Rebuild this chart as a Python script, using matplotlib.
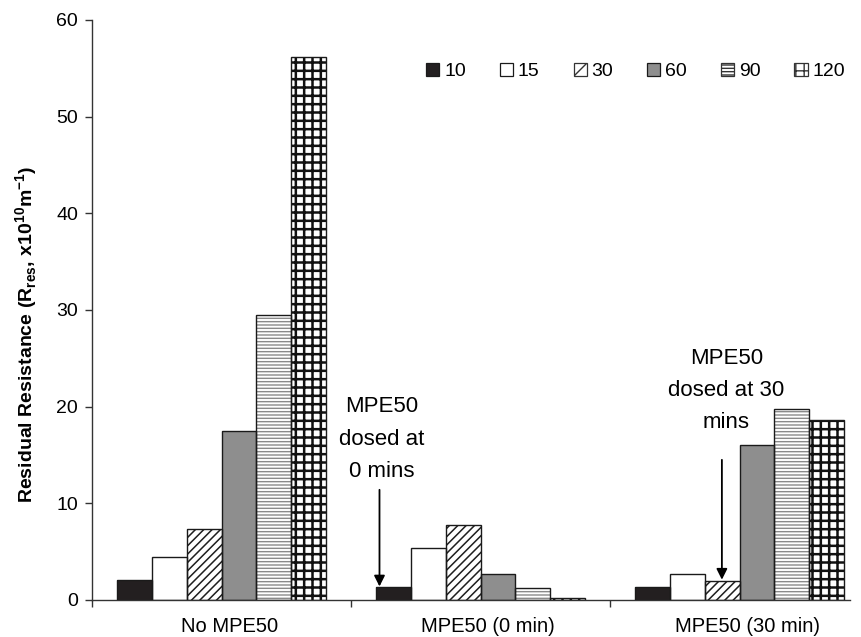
import matplotlib
matplotlib.use("Agg")
import matplotlib.pyplot as plt
import numpy as np
from matplotlib.patches import Patch

# data
groups = ["No MPE50", "MPE50 (0 min)", "MPE50 (30 min)"]
times = ["10", "15", "30", "60", "90", "120"]
r_10 = [2.1, 1.3, 1.3]
r_15 = [4.4, 5.4, 2.7]
r_30 = [7.3, 7.8, 2.0]
r_60 = [17.5, 2.7, 16.0]
r_90 = [29.5, 1.2, 19.8]
r_120 = [56.2, 0.2, 18.6]
series = [r_10, r_15, r_30, r_60, r_90, r_120]

plt.rcParams['font.family'] = ['Liberation Sans', 'DejaVu Sans']
plt.rcParams['mathtext.fontset'] = 'custom'
plt.rcParams['mathtext.rm'] = 'Liberation Sans'
plt.rcParams['mathtext.bf'] = 'Liberation Sans:bold'

# fill, hatch, hatch colour, hatch width, legend hatch
styles = [
    ("#231f20", "", "black", 1.0, ""),
    ("white", "", "black", 1.0, ""),
    ("white", "////", "#1e1e1e", 1.1, "//"),
    ("#8e8e8e", "", "black", 1.0, ""),
    ("white", "-----", "#8a8a8a", 1.0, "-----"),
    ("white", "++", "#111111", 1.8, "++"),
]

fig = plt.figure(figsize=(8.61, 6.37), dpi=100)
ax = fig.add_axes([92/861, 1 - 600/637, (850-92)/861, 580/637])

x = np.arange(len(groups))
w = 0.134
handles = []
for i, (vals, (fc, hatch, hc, hlw, lh)) in enumerate(zip(series, styles)):
    pos = x + (i - 2.5) * w
    # hatch colour comes from edgecolor, so draw the fill+hatch first, outline on top
    with plt.rc_context({'hatch.linewidth': hlw}):
        ax.bar(pos, vals, w, color=fc, edgecolor=hc, hatch=hatch, linewidth=0, zorder=2)
        handles.append(Patch(facecolor=fc, edgecolor="#333333" if hatch else "#1a1a1a",
                             hatch=lh, linewidth=0.9))
    ax.bar(pos, vals, w, fill=False, edgecolor="#1a1a1a", linewidth=1.0, zorder=3)

ax.set_xlim(-0.5, -0.5 + (850-92)/259)
ax.set_ylim(0, 60)
ax.set_yticks(range(0, 61, 10))
ax.set_xticks([-0.5, 0.5, 1.5])
ax.set_xticklabels([])
ax.set_xticks(x + 0.03, minor=True)
ax.set_xticklabels(groups, minor=True, fontsize=14.5)
ax.tick_params(axis='x', which='minor', length=0, pad=12)
ax.tick_params(axis='x', which='major', length=5, width=1, direction='out', color='#333333')
ax.tick_params(axis='y', length=5, width=1, direction='out', labelsize=14, pad=5, color='#333333')

for s in ['top', 'right']:
    ax.spines[s].set_visible(False)
for s in ['left', 'bottom']:
    ax.spines[s].set_color('#333333')
    ax.spines[s].set_linewidth(1.0)

ax.set_ylabel(r"Residual Resistance (R$_{\mathbf{res}}$, x10$^{\mathbf{10}}$m$^{\mathbf{-1}}$)",
              fontsize=14, fontweight='bold')
ax.yaxis.set_label_coords(-0.068, (600-334)/580)

ax.legend(handles, times, ncol=6, frameon=False, fontsize=14,
          loc='center right', bbox_to_anchor=((845-92)/758, (600-71.7)/580),
          borderaxespad=0, borderpad=0, handlelength=0.67, handleheight=0.67,
          handletextpad=0.25, columnspacing=1.75)

arrow = dict(arrowstyle='-|>', mutation_scale=16, lw=1.3, color='black', shrinkA=0, shrinkB=0)
ax.annotate("", xy=(0.61, 1.4), xytext=(0.61, 11.4), arrowprops=arrow, zorder=4)
ax.text(0.618, 16.65, "MPE50\ndosed at\n0 mins", ha='center', va='center', fontsize=16, linespacing=1.7)
ax.annotate("", xy=(1.932, 2.1), xytext=(1.932, 14.5), arrowprops=arrow, zorder=4)
ax.text(1.95, 21.7, "MPE50\ndosed at 30\nmins", ha='center', va='center', fontsize=16, linespacing=1.7)

fig.savefig("out.png", dpi=100, facecolor='white')
